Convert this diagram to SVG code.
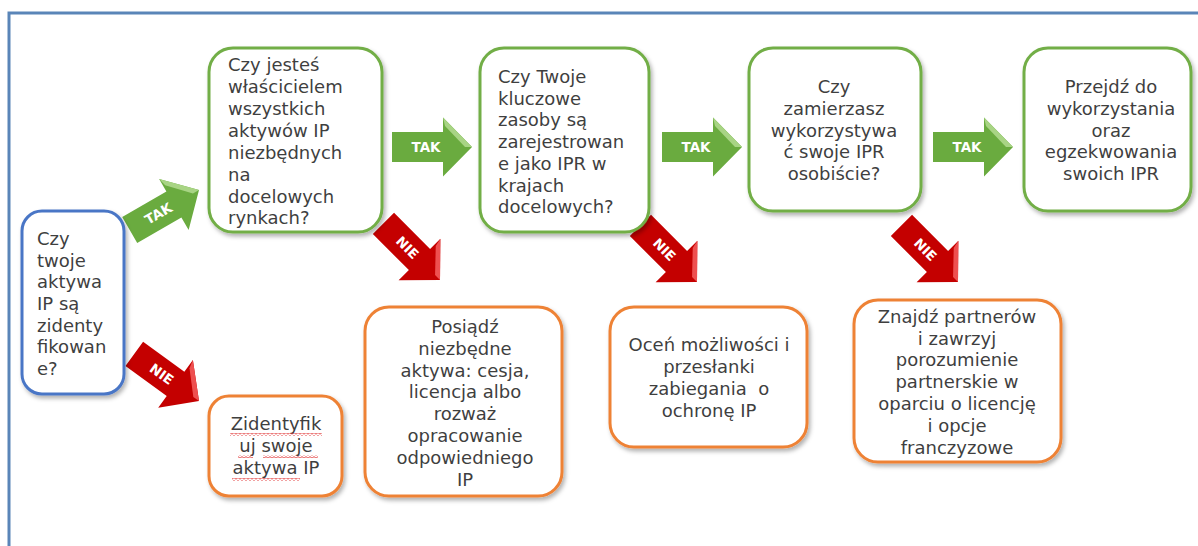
<svg xmlns="http://www.w3.org/2000/svg" width="1198" height="546" viewBox="0 0 1198 546">
<style>
.box{fill:#fff;stroke-width:3}
.g{stroke:#72ae46}
.o{stroke:#ee8236}
.b{stroke:#4a76c6}
.t{font-family:"DejaVu Sans",Verdana,sans-serif;font-size:18px;fill:#3f3f3f}
.c{text-anchor:middle}
.lbl{font-family:"DejaVu Sans",Verdana,sans-serif;font-size:13.5px;font-weight:bold;fill:#fff;text-anchor:middle}
.ga{fill:#6aab3f}
.gh{fill:#a8d484}
.ra{fill:#c40000}
.rh{fill:#ee5050}
</style>
<defs>
<filter id="sh" x="-10%" y="-10%" width="130%" height="130%">
<feDropShadow dx="2" dy="3" stdDeviation="2" flood-color="#000" flood-opacity="0.3"/>
</filter>
<path id="arr" d="M-80,-15 L-29,-15 L-29,-29.5 L0,0 L-29,29.5 L-29,15 L-80,15 Z"/>
<path id="hl" d="M-29,-29.5 L0,0 L-7,0 L-27,-21 Z"/>
<pattern id="wavy" width="4" height="3" patternUnits="userSpaceOnUse">
<path d="M0,2.2 L2,0.6 L4,2.2" fill="none" stroke="#e03030" stroke-width="0.9"/>
</pattern>
</defs>
<rect x="9" y="13" width="1300" height="600" fill="none" stroke="#5a85b8" stroke-width="3"/>
<g id="connectors">
<g transform="translate(199,190) rotate(-30)"><use href="#arr" class="ga"/><use href="#hl" class="gh"/><text class="lbl" x="-47" y="5">TAK</text></g>
<g transform="translate(472,147)"><use href="#arr" class="ga"/><use href="#hl" class="gh"/><text class="lbl" x="-46" y="5">TAK</text></g>
<g transform="translate(742,147)"><use href="#arr" class="ga"/><use href="#hl" class="gh"/><text class="lbl" x="-46" y="5">TAK</text></g>
<g transform="translate(1013,147)"><use href="#arr" class="ga"/><use href="#hl" class="gh"/><text class="lbl" x="-46" y="5">TAK</text></g>
<g transform="translate(199,401) rotate(36)"><use href="#arr" class="ra"/><use href="#hl" class="rh"/><text class="lbl" x="-46" y="5">NIE</text></g>
<g transform="translate(440,280) rotate(45)"><use href="#arr" class="ra"/><use href="#hl" class="rh"/><text class="lbl" x="-46" y="5">NIE</text></g>
<g transform="translate(697,282) rotate(45)"><use href="#arr" class="ra"/><use href="#hl" class="rh"/><text class="lbl" x="-46" y="5">NIE</text></g>
<g transform="translate(958,282) rotate(45)"><use href="#arr" class="ra"/><use href="#hl" class="rh"/><text class="lbl" x="-46" y="5">NIE</text></g>
</g>
<g id="n1">
<rect class="box b" x="22" y="211" width="102" height="183" rx="20" filter="url(#sh)"/>
<text class="t" x="37"><tspan x="37" y="245">Czy</tspan><tspan x="37" y="267">twoje</tspan><tspan x="37" y="288">aktywa</tspan><tspan x="37" y="310">IP są</tspan><tspan x="37" y="332">zidenty</tspan><tspan x="37" y="353">fikowan</tspan><tspan x="37" y="375">e?</tspan></text>
</g>
<g id="n2">
<rect class="box g" x="209" y="48" width="173" height="184" rx="24" filter="url(#sh)"/>
<text class="t"><tspan x="228" y="71">Czy jesteś</tspan><tspan x="228" y="93">właścicielem</tspan><tspan x="228" y="115">wszystkich</tspan><tspan x="228" y="137">aktywów IP</tspan><tspan x="228" y="159">niezbędnych</tspan><tspan x="228" y="181">na</tspan><tspan x="228" y="203">docelowych</tspan><tspan x="228" y="224">rynkach?</tspan></text>
</g>
<g id="n3">
<rect class="box g" x="480" y="48" width="169" height="184" rx="24" filter="url(#sh)"/>
<text class="t"><tspan x="498" y="83">Czy Twoje</tspan><tspan x="498" y="105">kluczowe</tspan><tspan x="498" y="126">zasoby są</tspan><tspan x="498" y="148">zarejestrowan</tspan><tspan x="498" y="170">e jako IPR w</tspan><tspan x="498" y="192">krajach</tspan><tspan x="498" y="213">docelowych?</tspan></text>
</g>
<g id="n4">
<rect class="box g" x="749" y="48" width="172" height="163" rx="24" filter="url(#sh)"/>
<text class="t c"><tspan x="834" y="93">Czy</tspan><tspan x="834" y="115">zamierzasz</tspan><tspan x="834" y="137">wykorzystywa</tspan><tspan x="834" y="158">ć swoje IPR</tspan><tspan x="834" y="180">osobiście?</tspan></text>
</g>
<g id="n5">
<rect class="box g" x="1024" y="48" width="167" height="163" rx="24" filter="url(#sh)"/>
<text class="t c"><tspan x="1111" y="93">Przejdź do</tspan><tspan x="1111" y="115">wykorzystania</tspan><tspan x="1111" y="137">oraz</tspan><tspan x="1111" y="158">egzekwowania</tspan><tspan x="1111" y="180">swoich IPR</tspan></text>
</g>
<g id="n6">
<rect class="box o" x="209" y="396" width="133" height="100" rx="20" filter="url(#sh)"/>
<text class="t c"><tspan x="276" y="430">Zidentyfik</tspan><tspan x="276" y="452">uj swoje</tspan><tspan x="276" y="474">aktywa IP</tspan></text>
<rect x="230" y="433" width="92" height="3" fill="url(#wavy)"/>
<rect x="238" y="455" width="15" height="3" fill="url(#wavy)"/>
<rect x="263" y="455" width="55" height="3" fill="url(#wavy)"/>
<rect x="232" y="478" width="68" height="3" fill="url(#wavy)"/>
</g>
<g id="n7">
<rect class="box o" x="365" y="307" width="197" height="189" rx="24" filter="url(#sh)"/>
<text class="t c"><tspan x="465" y="333">Posiądź</tspan><tspan x="465" y="355">niezbędne</tspan><tspan x="465" y="377">aktywa: cesja,</tspan><tspan x="465" y="398">licencja albo</tspan><tspan x="465" y="420">rozważ</tspan><tspan x="465" y="442">opracowanie</tspan><tspan x="465" y="464">odpowiedniego</tspan><tspan x="465" y="486">IP</tspan></text>
</g>
<g id="n8">
<rect class="box o" x="610" y="307" width="197" height="140" rx="24" filter="url(#sh)"/>
<text class="t c"><tspan x="709" y="351">Oceń możliwości i</tspan><tspan x="709" y="373">przesłanki</tspan><tspan x="709" y="395">zabiegania&#160; o</tspan><tspan x="709" y="417">ochronę IP</tspan></text>
</g>
<g id="n9">
<rect class="box o" x="854" y="300" width="207" height="162" rx="24" filter="url(#sh)"/>
<text class="t c"><tspan x="957" y="323">Znajdź partnerów</tspan><tspan x="957" y="345">i zawrzyj</tspan><tspan x="957" y="366">porozumienie</tspan><tspan x="957" y="388">partnerskie w</tspan><tspan x="957" y="410">oparciu o licencję</tspan><tspan x="957" y="432">i opcje</tspan><tspan x="957" y="454">franczyzowe</tspan></text>
</g>
</svg>
